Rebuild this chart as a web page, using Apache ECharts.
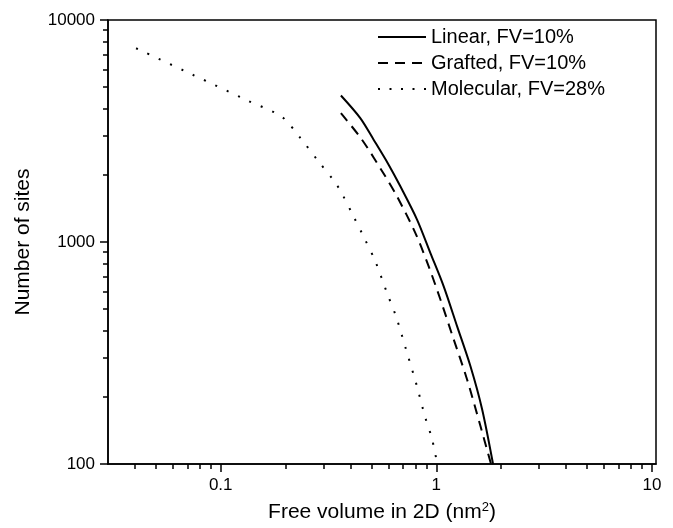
<!DOCTYPE html>
<html>
<head>
<meta charset="utf-8">
<script src="https://cdn.jsdelivr.net/npm/echarts@6/dist/echarts.min.js"></script>
<style>html,body{margin:0;padding:0;background:#fff}#c{width:673px;height:528px}</style>
</head>
<body>
<div id="c"></div>
<script>
// ---- data ----
const seriesNames = ['Linear, FV=10%', 'Grafted, FV=10%', 'Molecular, FV=28%'];
const linearData = [[0.361,4570],[0.444,3615],[0.512,2890],[0.601,2230],[0.681,1782],[0.814,1262],[0.938,894],[1.081,633],[1.248,418],[1.438,277],[1.630,177],[1.833,100]];
const graftedData = [[0.361,3807],[0.452,2890],[0.580,1976],[0.657,1606],[0.799,1100],[0.921,778],[1.044,552],[1.203,365],[1.388,241],[1.600,149],[1.794,100]];
const molecularData = [[0.0405,7460],[0.0738,5680],[0.134,4325],[0.192,3665],[0.233,2958],[0.281,2340],[0.340,1851],[0.365,1652],[0.413,1306],[0.463,1044],[0.521,820],[0.594,581],[0.652,459],[0.726,325],[0.808,229],[0.889,162],[0.955,130],[1.01,100]];
const xMajorTicks = [0.1, 1, 10];
const xMinorTicks = [0.04,0.05,0.06,0.07,0.08,0.09,0.2,0.3,0.4,0.5,0.6,0.7,0.8,0.9,2,3,4,5,6,7,8,9];
const yMajorTicks = [100, 1000, 10000];
const yMinorTicks = [200,300,400,500,600,700,800,900,2000,3000,4000,5000,6000,7000,8000,9000];
const xRange = [0.03, 10.45];
const yRange = [100, 10000];

const FONT = '"Liberation Sans", Arial, Helvetica, sans-serif';
const chart = echarts.init(document.getElementById('c'));

function xAxisBase(extra) {
  return Object.assign({
    type: 'log', logBase: 10, min: xRange[0], max: xRange[1], gridIndex: 0,
    splitLine: {show: false}, minorTick: {show: false}
  }, extra);
}
function yAxisBase(extra) {
  return Object.assign({
    type: 'log', logBase: 10, min: yRange[0], max: yRange[1], gridIndex: 0,
    splitLine: {show: false}, minorTick: {show: false}
  }, extra);
}
const hiddenSym = {color: 'rgba(0,0,0,0)', borderWidth: 0, opacity: 0};

chart.setOption({
  backgroundColor: '#fff',
  animation: false,
  grid: {left: 108, right: 17, top: 20, bottom: 63, show: true, borderColor: '#000', borderWidth: 1.5, backgroundColor: 'transparent'},
  legend: {
    orient: 'vertical', left: 377, top: 27, padding: 0, itemWidth: 48, itemHeight: 14, itemGap: 6,
    textStyle: {fontFamily: FONT, fontSize: 20, color: '#000'},
    itemStyle: hiddenSym,
    data: [
      {name: seriesNames[0], itemStyle: hiddenSym},
      {name: seriesNames[1], itemStyle: hiddenSym, lineStyle: {type: [10, 7]}},
      {name: seriesNames[2], itemStyle: hiddenSym, lineStyle: {type: [2, 9.5]}}
    ]
  },
  xAxis: [
    xAxisBase({
      position: 'bottom',
      name: 'Free volume in 2D (nm{sup|2})', nameLocation: 'middle', nameGap: 37,
      nameTextStyle: {fontFamily: FONT, fontSize: 21, color: '#000', rich: {sup: {fontFamily: FONT, fontSize: 13, verticalAlign: 'top', padding: [0,0,10,0], color: '#000'}}},
      axisLine: {show: true, lineStyle: {color: '#000', width: 1.5}},
      axisTick: {show: true, inside: false, length: 8, lineStyle: {color: '#000', width: 1.5}, customValues: xMajorTicks},
      axisLabel: {show: true, margin: 13, fontFamily: FONT, fontSize: 17, color: '#000', customValues: xMajorTicks,
        formatter: v => String(+v.toPrecision(3))}
    }),
    xAxisBase({
      position: 'bottom',
      axisLine: {show: false},
      axisTick: {show: true, inside: false, length: 5, lineStyle: {color: '#000', width: 1.5}, customValues: xMinorTicks},
      axisLabel: {show: false}
    })
  ],
  yAxis: [
    yAxisBase({
      position: 'left',
      name: 'Number of sites', nameLocation: 'middle', nameGap: 74, nameRotate: 90,
      nameTextStyle: {fontFamily: FONT, fontSize: 21, color: '#000'},
      axisLine: {show: true, lineStyle: {color: '#000', width: 1.5}},
      axisTick: {show: true, inside: false, length: 8, lineStyle: {color: '#000', width: 1.5}, customValues: yMajorTicks},
      axisLabel: {show: true, margin: 13, fontFamily: FONT, fontSize: 17, color: '#000', customValues: yMajorTicks,
        formatter: v => String(Math.round(v))}
    }),
    yAxisBase({
      position: 'left',
      axisLine: {show: false},
      axisTick: {show: true, inside: false, length: 5, lineStyle: {color: '#000', width: 1.5}, customValues: yMinorTicks},
      axisLabel: {show: false}
    })
  ],
  series: [
    {name: seriesNames[0], type: 'line', xAxisIndex: 0, yAxisIndex: 0, data: linearData, symbol: 'none', smooth: 0.3,
      lineStyle: {color: '#000', width: 2, type: 'solid'}, itemStyle: {color: '#000'}, clip: true},
    {name: seriesNames[1], type: 'line', xAxisIndex: 0, yAxisIndex: 0, data: graftedData, symbol: 'none', smooth: 0.3,
      lineStyle: {color: '#000', width: 2, type: [10, 7]}, itemStyle: {color: '#000'}, clip: true},
    {name: seriesNames[2], type: 'line', xAxisIndex: 0, yAxisIndex: 0, data: molecularData, symbol: 'none', smooth: 0.3,
      lineStyle: {color: '#000', width: 2, type: [2, 10.5]}, itemStyle: {color: '#000'}, clip: true}
  ]
});
</script>
</body>
</html>
